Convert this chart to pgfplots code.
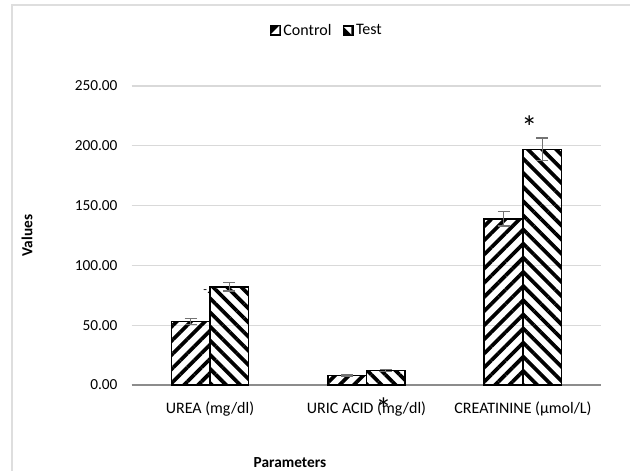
\documentclass[border=0pt]{standalone}
\usepackage{pgfplots}
\pgfplotsset{compat=1.18}
\usepackage{fontspec}
\setmainfont{Carlito}
\usetikzlibrary{patterns.meta}
\begin{document}
\begin{tikzpicture}[x=1pt,y=1pt]
\useasboundingbox (-96,-63.75) rectangle (376.5,288.75);
\begin{scope}
\clip (-96,-63.75) rectangle (376.5,288.75);
\draw[black!13, line width=1.5pt] (-87,-100) rectangle (420,285);
\end{scope}
\begin{axis}[
  at={(2.8pt,0pt)}, anchor=south west,
  scale only axis, width=352.1pt, height=224.25pt,
  ymin=0, ymax=250, ytick={0,50,...,250},
  xmin=-0.5, xmax=2.5, xtick={0,1,2},
  xticklabels={UREA (mg/dl), URIC ACID (mg/dl), CREATININE (µmol/L)},
  ybar=0pt, bar width=29pt,
  ymajorgrids, grid style={black!15, line width=0.9pt},
  axis x line=bottom, axis y line=left,
  x axis line style={black!45, line width=1pt, -},
  y axis line style={draw=none},
  tick style={draw=none},
  font=\fontsize{11.5}{13}\selectfont,
  tick label style={font=\fontsize{11.5}{13}\selectfont},
  /pgf/number format/fixed, /pgf/number format/fixed zerofill, /pgf/number format/precision=2,
  /pgf/number format/assume math mode=true,
  yticklabel style={xshift=-5pt},
  xticklabel style={yshift=-7pt, font=\fontsize{12}{13}\selectfont},
  xlabel={Parameters}, ylabel={Values},
  every axis x label/.style={at={(axis description cs:0.337,-0.261)}, anchor=center, font=\fontsize{11.5}{13}\selectfont\bfseries},
  every axis y label/.style={at={(axis description cs:-0.2231,0.5)}, anchor=center, rotate=90, font=\fontsize{11.5}{13}\selectfont\bfseries},
  legend style={at={(axis description cs:0.416,1)}, anchor=south, yshift=33pt, draw=none, legend columns=2, font=\fontsize{12}{13}\selectfont, /tikz/every even column/.append style={column sep=7pt}, /tikz/every node/.append style={inner sep=1.5pt}},
  clip=false,
]
\addplot[draw=black, line width=1.2pt, pattern={Lines[angle=45, distance=7.5pt, line width=2.8pt]},
  legend image code/.code={\fill[black] (0pt,-3.6pt) rectangle (7.2pt,3.6pt);
     \fill[white] (1.6pt,-2pt) -- (5.6pt,-2pt) -- (5.6pt,2pt) -- cycle;},
  error bars/.cd, y dir=both, y explicit,
  error bar style={black!55, line width=1pt},
  error mark options={rotate=90, black!55, mark size=4.5pt, line width=1pt}]
  coordinates {(0,53) +- (0,2.5) (1,8) +- (0,0.6) (2,139) +- (0,6)};
\addplot[draw=black, line width=1.2pt, pattern={Lines[angle=-45, distance=7.5pt, line width=2.8pt]},
  legend image code/.code={\fill[black] (0pt,-3.6pt) rectangle (7.2pt,3.6pt);
     \fill[white] (1.6pt,2pt) -- (5.2pt,2pt) -- (5.2pt,-1.6pt) -- cycle;},
  error bars/.cd, y dir=both, y explicit,
  error bar style={black!55, line width=1pt},
  error mark options={rotate=90, black!55, mark size=4.5pt, line width=1pt}]
  coordinates {(0,82) +- (0,3.5) (1,12) +- (0,0.8) (2,197) +- (0,9.5)};
\legend{Control, Test}
\node[font=\fontsize{24}{24}\selectfont] at (axis cs:2.04,216) {*};
\node[font=\fontsize{24}{24}\selectfont] at (axis cs:1.11,-20) {*};
\node[font=\fontsize{9}{9}\selectfont] at (axis cs:-0.02,78) {-.};
\end{axis}
\end{tikzpicture}
\end{document}
